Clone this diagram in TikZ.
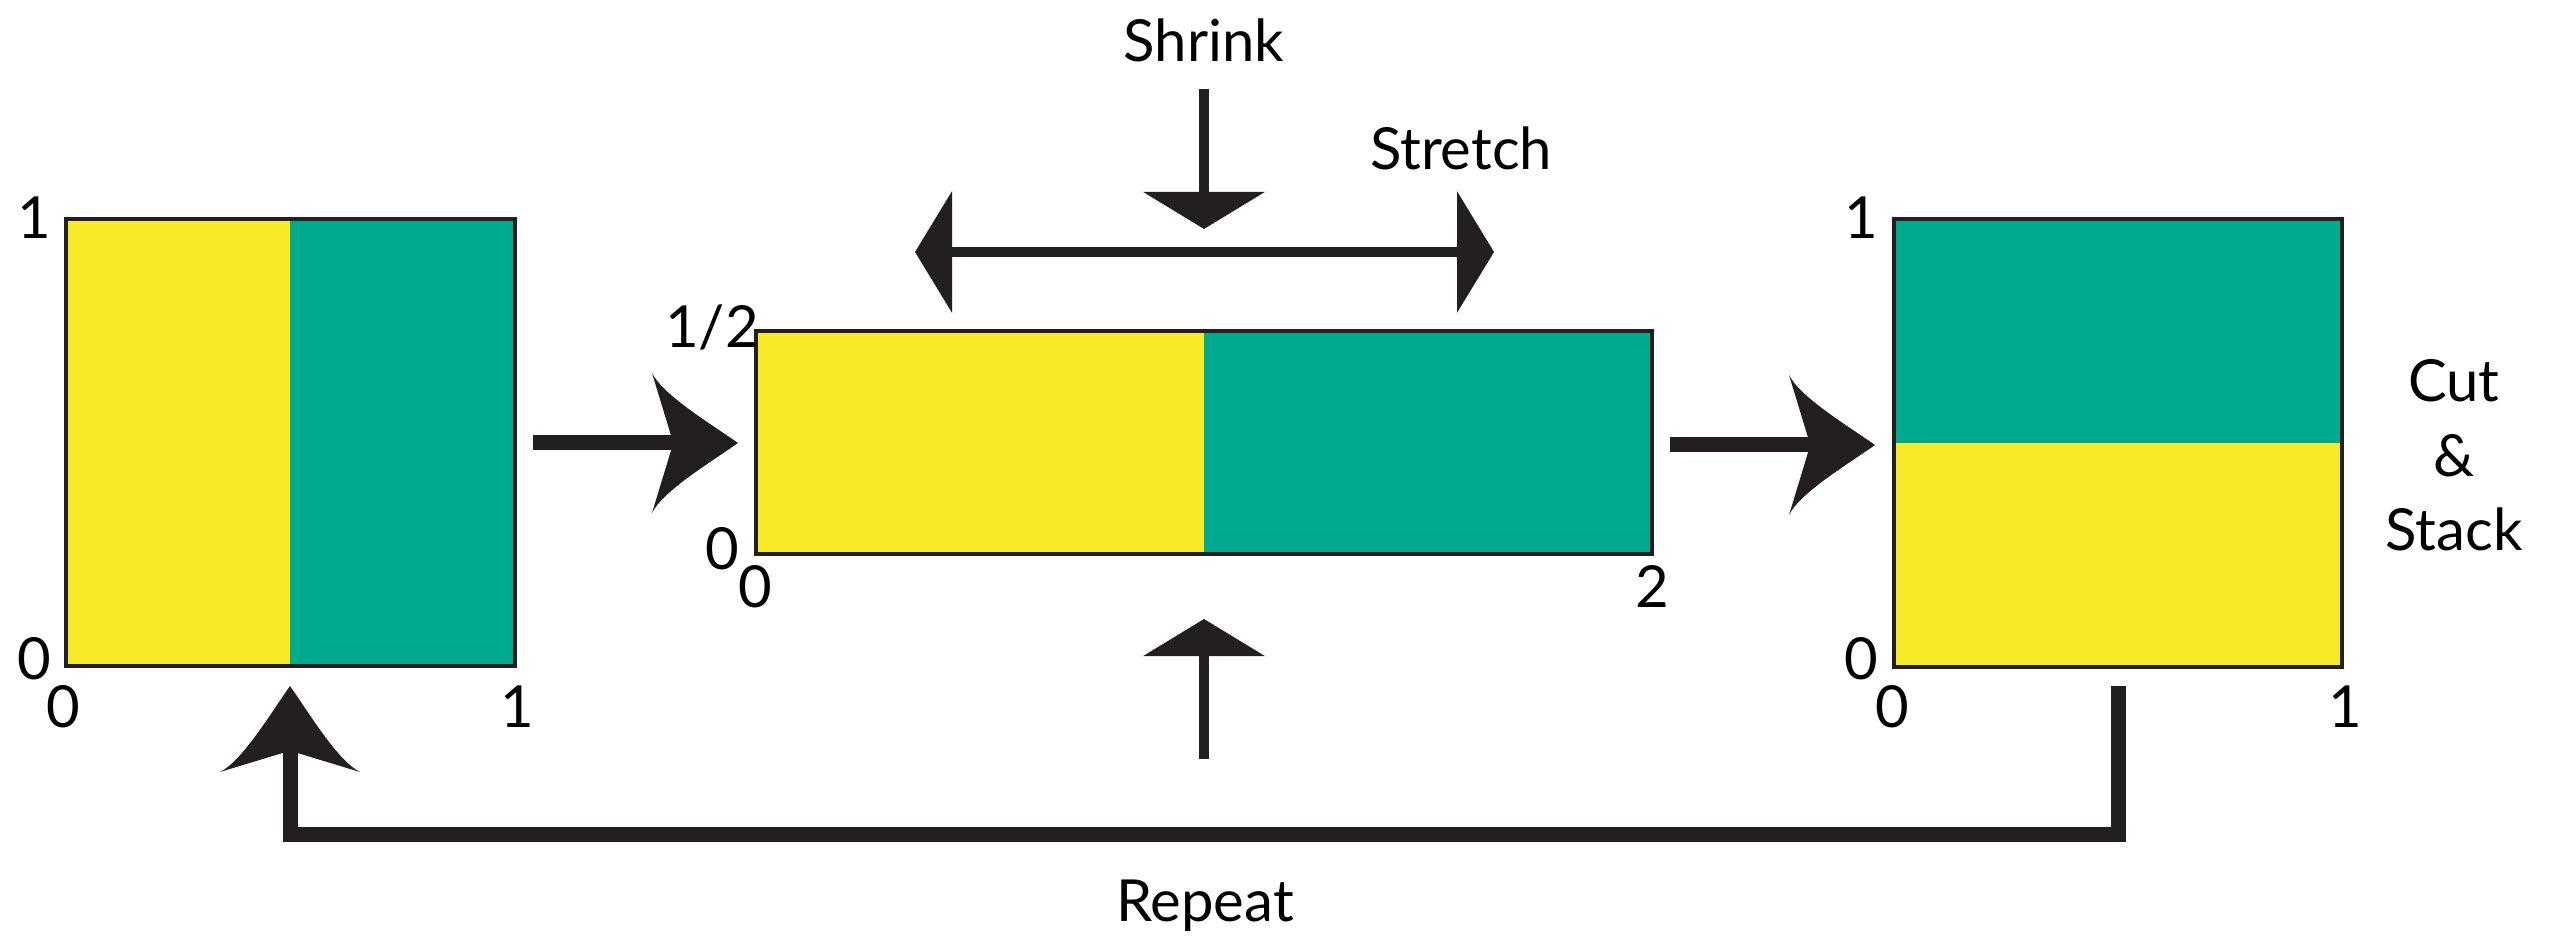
\documentclass[tikz,border=0pt]{standalone}
\usepackage{fontspec}
\setmainfont{Lato}
\usetikzlibrary{arrows.meta,calc}
\definecolor{sunyellow}{RGB}{246,234,41}
\definecolor{seateal}{RGB}{0,170,142}
\definecolor{ink}{RGB}{35,31,32}
\tikzset{
  lbl/.style={anchor=base, inner sep=0pt, font=\fontsize{29}{35}\selectfont, text=black},
  frame/.style={draw=ink, line width=1.75pt},
  shaft/.style={draw=ink, line width=7.5pt, line cap=butt, line join=miter},
  pushline/.style={draw=ink, line width=4.75pt, line cap=butt},
  pushtip/.style={-{Triangle[length=18.5pt,width=60pt]}},
  stretchtips/.style={{Triangle[length=18.5pt,width=60pt]}-{Triangle[length=18.5pt,width=60pt]}},
  curvedhead/.pic={
    \fill[ink] (0,0) .. controls (-30,-21) and (-75,-48) .. (-86,-70)
      -- (-67,-7.5) -- (-67,7.5) -- (-86,70)
      .. controls (-75,48) and (-30,21) .. cycle;
  }
}
\begin{document}
\begin{tikzpicture}[x=0.5pt,y=-0.5pt]
\useasboundingbox (0,0) rectangle (2553,940);

% unit square, split vertically
\coordinate (sqA-sw) at (66,666);
\coordinate (sqA-ne) at (515,219);
\fill[sunyellow] (66,219) rectangle (290,666);
\fill[seateal] (290,219) rectangle (515,666);
\draw[frame] (sqA-sw) rectangle (sqA-ne);

% squeezed-and-stretched strip
\coordinate (strip-sw) at (756,554);
\coordinate (strip-ne) at (1652,331);
\fill[sunyellow] (756,331) rectangle (1204,554);
\fill[seateal] (1204,331) rectangle (1652,554);
\draw[frame] (strip-sw) rectangle (strip-ne);

% stacked square
\coordinate (sqC-sw) at (1894,667);
\coordinate (sqC-ne) at (2342,219);
\fill[seateal] (1894,219) rectangle (2342,443);
\fill[sunyellow] (1894,443) rectangle (2342,667);
\draw[frame] (sqC-sw) rectangle (sqC-ne);

% axis labels
\node[lbl] (a1) at (34,239) {1};
\node[lbl] (a0) at (34,679) {0};
\node[lbl] (ax0) at (63,727) {0};
\node[lbl] (ax1) at (517,727) {1};
\node[lbl] (bhalf) at (712,348) {1/2};
\node[lbl] (b0) at (722,570) {0};
\node[lbl] (bx0) at (755,608) {0};
\node[lbl] (bx2) at (1652,608) {2};
\node[lbl] (c1) at (1861,239) {1};
\node[lbl] (c0) at (1861,679) {0};
\node[lbl] (cx0) at (1892,727) {0};
\node[lbl] (cx1) at (2345,727) {1};

% captions
\node[lbl] (shrink) at (1204,62) {Shrink};
\node[lbl] (stretch) at (1461,170) {Stretch};
\node[lbl] (cut) at (2454,402) {Cut};
\node[lbl] (amp) at (2454,477) {\&};
\node[lbl] (stack) at (2454,551) {Stack};
\node[lbl] (repeat) at (1205,921) {Repeat};

% step arrows between the stages
\coordinate (s1) at (533,443);
\coordinate (t1) at (738,443);
\draw[shaft] (s1) -- ($(t1)+(-66,0)$);
\pic at (t1) {curvedhead};

\coordinate (s2) at (1670,445);
\coordinate (t2) at (1875,445);
\draw[shaft] (s2) -- ($(t2)+(-66,0)$);
\pic at (t2) {curvedhead};

% squeeze from above and below
\coordinate (shTop) at (1204,89);
\coordinate (shTip) at (1204,229);
\draw[pushline,pushtip] (shTop) -- (shTip);
\coordinate (upBot) at (1204,759);
\coordinate (upTip) at (1204,619);
\draw[pushline,pushtip] (upBot) -- (upTip);

% stretch sideways
\coordinate (stL) at (915,252);
\coordinate (stR) at (1494,252);
\draw[pushline,stretchtips] (stL) -- (stR);

% feedback loop back to the unit square
\coordinate (rStart) at (2118,686);
\coordinate (rCorner) at (2118,834);
\coordinate (lCorner) at (290,834);
\coordinate (rTip) at (290,686);
\draw[shaft] (rStart) -- (rCorner) -- (lCorner) -- ($(rTip)+(0,66)$);
\pic[rotate=90] at (rTip) {curvedhead};
\end{tikzpicture}
\end{document}
